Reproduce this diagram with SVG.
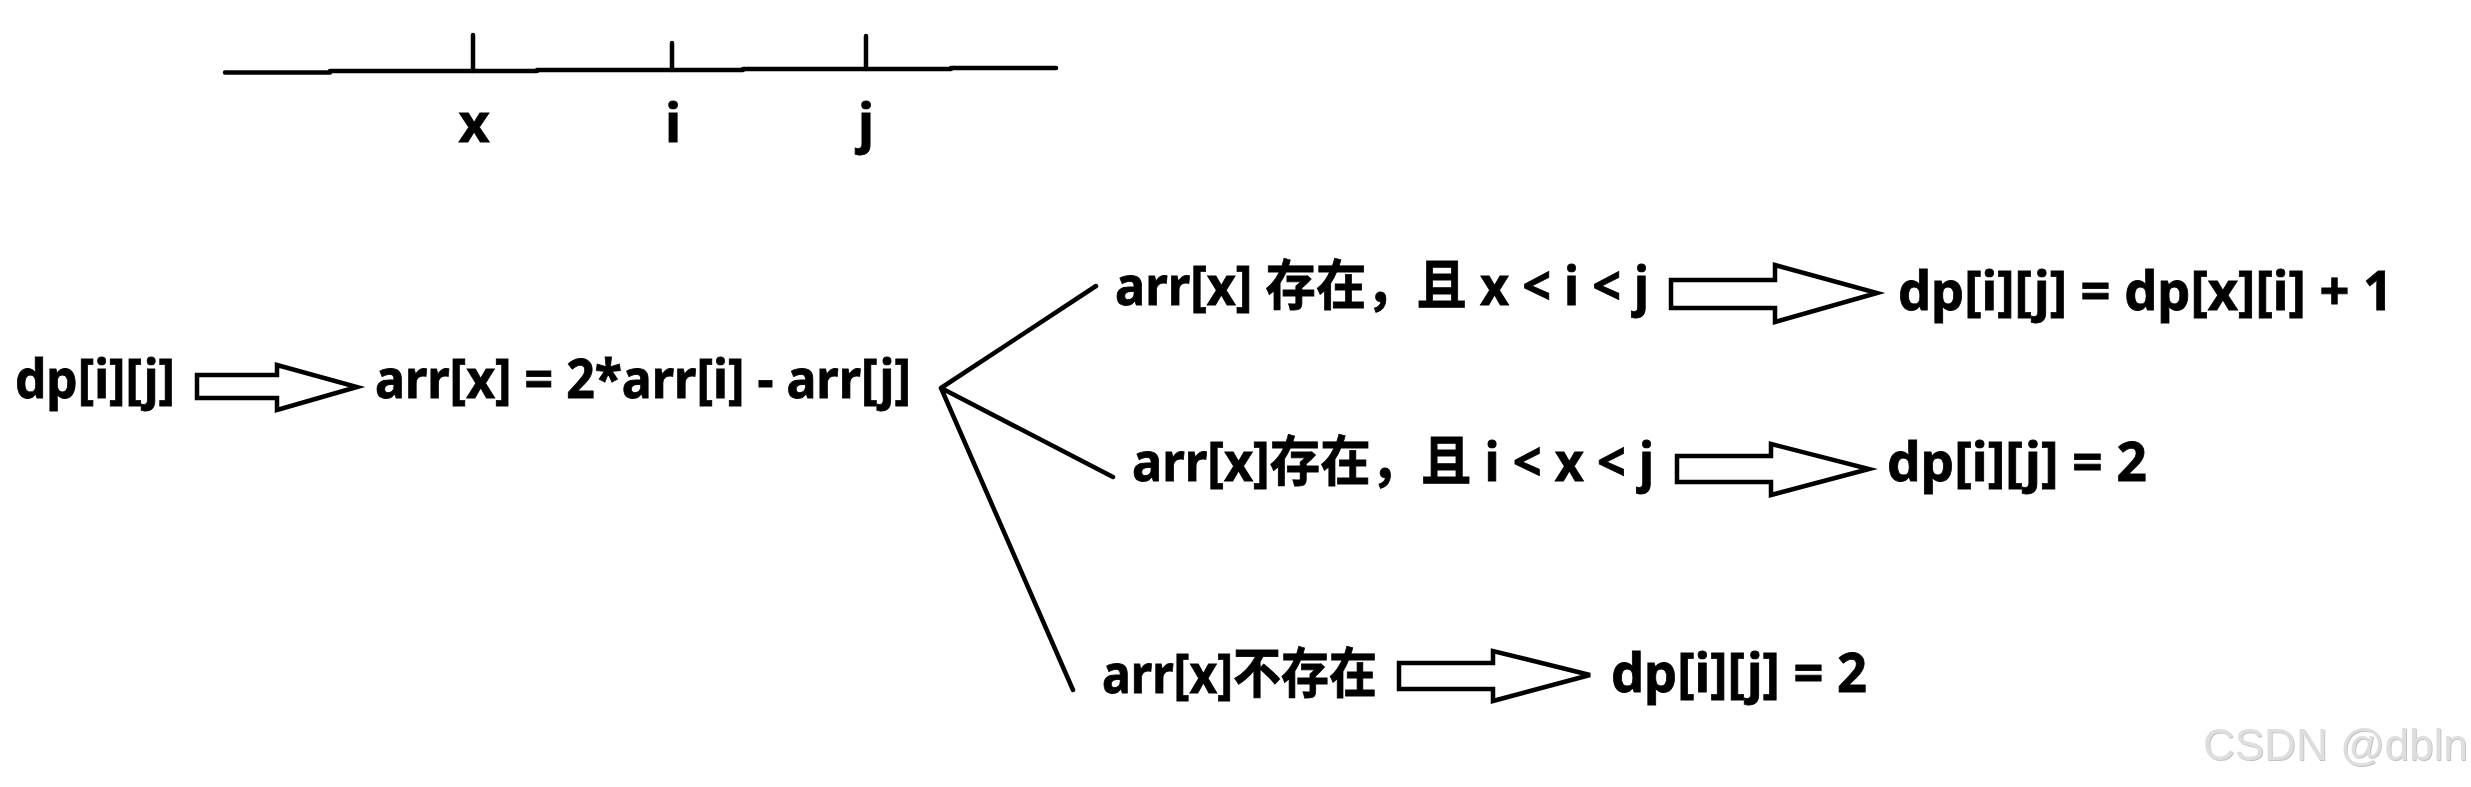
<svg xmlns="http://www.w3.org/2000/svg" width="2471" height="787" viewBox="0 0 2471 787">
<style>
.t{font-family:"Noto Sans","Noto Sans CJK SC",sans-serif;font-weight:bold;font-size:54px;fill:#000;stroke:#000;stroke-width:0.8px}
.ln{stroke:#000;stroke-width:4.5;fill:none;stroke-linecap:round}
.ar{stroke:#000;stroke-width:4.5;fill:#fff;stroke-linejoin:miter}
.wm{font-family:"Liberation Sans",Arial,sans-serif;font-size:44px;fill:#dedede}
</style>
<defs>
<filter id="sh" x="-5%" y="-20%" width="110%" height="140%">
<feDropShadow dx="1" dy="1" stdDeviation="0.6" flood-color="#9a9a9a" flood-opacity="0.6"/>
</filter>
</defs>
<rect width="2471" height="787" fill="#fff"/>
<g id="axis">
<path class="ln" d="M225 72.5H330M330 71H537M537 70H743M743 69H951M951 68H1056"/>
<path class="ln" d="M473 35V71M672 43V70M866 36V69"/>
<text class="t" x="474" y="142" text-anchor="middle">x</text>
<text class="t" x="673" y="142" text-anchor="middle">i</text>
<text class="t" x="866" y="142" text-anchor="middle">j</text>
</g>
<g id="n-dp">
<text class="t" x="15" y="398" textLength="160" lengthAdjust="spacingAndGlyphs">dp[i][j]</text>
</g>
<g id="n-formula">
<text class="t" x="375" y="398" textLength="536" lengthAdjust="spacingAndGlyphs">arr[x] = 2*arr[i] - arr[j]</text>
</g>
<g id="n-c1">
<text class="t" x="1115" y="305" textLength="534" lengthAdjust="spacingAndGlyphs">arr[x] 存在，且 x &lt; i &lt; j</text>
</g>
<g id="n-r1">
<text class="t" x="1898" y="310" textLength="495" lengthAdjust="spacingAndGlyphs">dp[i][j] = dp[x][i]  + 1</text>
</g>
<g id="n-c2">
<text class="t" x="1132" y="481" textLength="522" lengthAdjust="spacingAndGlyphs">arr[x]存在，且 i &lt; x &lt; j</text>
</g>
<g id="n-r2">
<text class="t" x="1887" y="481" textLength="260" lengthAdjust="spacingAndGlyphs">dp[i][j] = 2</text>
</g>
<g id="n-c3">
<text class="t" x="1102" y="693" textLength="275" lengthAdjust="spacingAndGlyphs">arr[x]不存在</text>
</g>
<g id="n-r3">
<text class="t" x="1611" y="692" textLength="256" lengthAdjust="spacingAndGlyphs">dp[i][j]  = 2</text>
</g>
<g id="connectors">
<path class="ln" d="M941 388L1096 286M941 388L1113 477M941 388L1073 690"/>
<polygon class="ar" points="197,375 277,375 277,365 357,387 277,410 277,398 197,398"/>
<polygon class="ar" points="1671,280 1775,280 1775,265 1877,293 1775,322 1775,308 1671,308"/>
<polygon class="ar" points="1677,456 1771,456 1771,444 1869,469 1771,495 1771,482 1677,482"/>
<polygon class="ar" points="1399,663 1493,663 1493,651 1590,675 1493,701 1493,689 1399,689"/>
</g>
<text class="wm" x="2203" y="760" filter="url(#sh)">CSDN @dbln</text>
</svg>
